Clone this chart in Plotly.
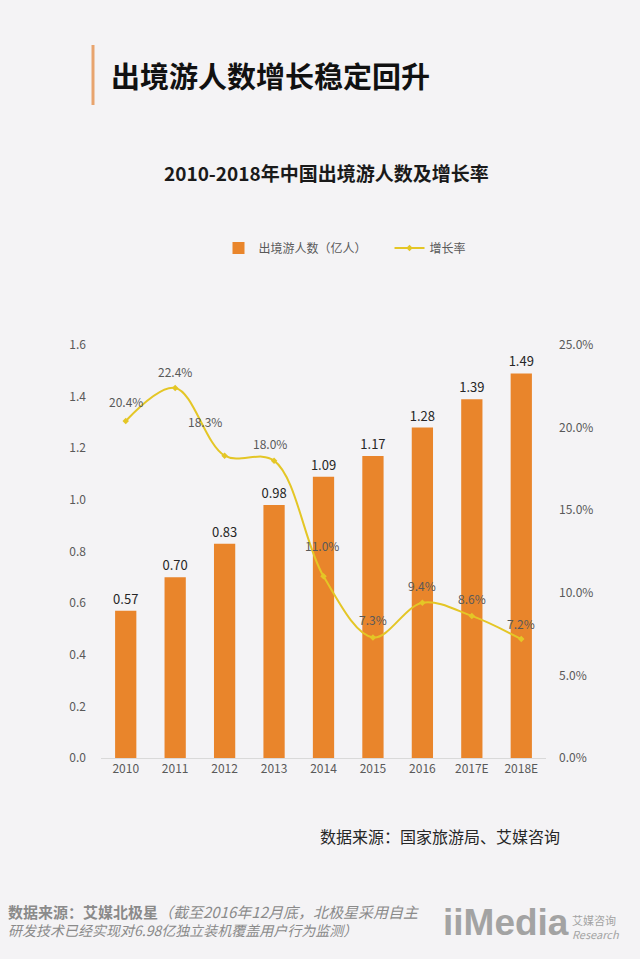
import plotly.graph_objects as go

# Data
years = ['2010', '2011', '2012', '2013', '2014', '2015', '2016', '2017E', '2018E']
travelers = [0.57, 0.70, 0.83, 0.98, 1.09, 1.17, 1.28, 1.39, 1.49]
growth = [0.204, 0.224, 0.183, 0.180, 0.110, 0.073, 0.094, 0.086, 0.072]
left_ticks = [0.0, 0.2, 0.4, 0.6, 0.8, 1.0, 1.2, 1.4, 1.6]
right_ticks = [0.0, 0.05, 0.10, 0.15, 0.20, 0.25]

# label nudges for the growth labels (pixels)
growth_xshift = [0, 0, -20, -4, -2, 0, 0, 0, 0]
growth_yshift = [19, 16, 34, 17, 31, 18, 17, 17, 16]

BG = '#f4f3f5'
ORANGE = '#e9852b'
YELLOW = '#e4c626'
FONT = 'Noto Sans CJK SC'

# Plot area in pixels, used to place the free text
L, R, T, B = 101, 546, 345, 758


def px(x):
    return (x - L) / (R - L)


def py(y):
    return (B - y) / (B - T)


fig = go.Figure()

fig.add_trace(go.Bar(x=years,
                     y=travelers,
                     name='出境游人数（亿人）\u2003\u2002',
                     marker=dict(color=ORANGE, line=dict(width=0)),
                     text=['%.2f' % v for v in travelers],
                     textposition='outside',
                     constraintext='none',
                     textfont=dict(size=13, color='#262626', family=FONT),
                     cliponaxis=False))

fig.add_trace(go.Scatter(x=years,
                         y=growth,
                         yaxis='y2',
                         name='增长率',
                         mode='lines+markers',
                         line=dict(color=YELLOW, width=2, shape='spline', smoothing=1.0),
                         marker=dict(color=YELLOW, size=5, symbol='diamond')))

annotations = []

# growth rate labels (x given as category index so '2010' is not read as a number)
for i, g in enumerate(growth):
    annotations.append(dict(x=i, y=g, xref='x', yref='y2',
                            text='%.1f%%' % (g * 100),
                            showarrow=False,
                            xshift=growth_xshift[i], yshift=growth_yshift[i],
                            font=dict(size=12, color='#595959', family=FONT)))

# titles and sources
annotations += [
    dict(x=px(109), y=py(75), xref='paper', yref='paper', xanchor='left', yanchor='middle',
         text='<b>出境游人数增长稳定回升</b>', showarrow=False,
         font=dict(size=29, color='#111111', family=FONT)),
    dict(x=px(326), y=py(172), xref='paper', yref='paper', xanchor='center', yanchor='middle',
         text='<b>2010-2018年中国出境游人数及增长率</b>', showarrow=False,
         font=dict(size=19, color='#1a1a1a', family=FONT)),
    dict(x=px(562), y=py(836), xref='paper', yref='paper', xanchor='right', yanchor='middle',
         text='数据来源：国家旅游局、艾媒咨询', showarrow=False,
         font=dict(size=16, color='#262626', family=FONT)),
    dict(x=px(6), y=py(920), xref='paper', yref='paper', xanchor='left', yanchor='middle',
         align='left',
         text=('<span style="font-size:15px"><b>数据来源：艾媒北极星</b>'
               '<i>（截至2016年12月底，北极星采用自主</i></span><br>'
               '<i>研发技术已经实现对6.98亿独立装机覆盖用户行为监测）</i>'),
         showarrow=False, font=dict(size=14, color='#8a8a8a', family=FONT)),
    # logo
    dict(x=px(571), y=py(922), xref='paper', yref='paper', xanchor='right', yanchor='middle',
         text='<b>iiMedia</b>', showarrow=False,
         font=dict(size=37, color='#a3a3a3', family='Liberation Sans')),
    dict(x=px(570), y=py(927), xref='paper', yref='paper', xanchor='left', yanchor='middle',
         align='left', text='艾媒咨询<br><i>Research</i>', showarrow=False,
         font=dict(size=11, color='#a3a3a3', family=FONT)),
]

# faint watermarks
for wx, wy in [(110, 170), (310, 275), (50, 640), (280, 815), (560, 615)]:
    annotations.append(dict(x=px(wx), y=py(wy), xref='paper', yref='paper',
                            text='<b>iiMedia</b>', showarrow=False, textangle=-25,
                            font=dict(size=40, color='rgba(0,0,0,0.018)',
                                      family='Liberation Sans')))

fig.update_layout(
    width=640, height=959,
    margin=dict(l=L, r=640 - R, t=T, b=959 - B),
    paper_bgcolor=BG,
    plot_bgcolor=BG,
    font=dict(family=FONT, color='#595959', size=12),
    bargap=0.57,
    showlegend=True,
    legend=dict(orientation='h', x=px(345), xanchor='center', y=py(248), yanchor='middle',
                font=dict(size=12, color='#595959', family=FONT),
                bgcolor='rgba(0,0,0,0)', itemwidth=30),
    xaxis=dict(type='category', range=[-0.5, len(years) - 0.5],
               showgrid=False, showline=True, linecolor='#d9d9d9', linewidth=1,
               ticks='', tickfont=dict(size=12, color='#595959')),
    yaxis=dict(range=[0, 1.6], tickvals=left_ticks,
               ticktext=['%.1f' % v for v in left_ticks],
               showgrid=False, zeroline=False, showline=False, ticks='',
               ticklabelstandoff=14, tickfont=dict(size=12, color='#595959')),
    yaxis2=dict(range=[0, 0.25], tickvals=right_ticks,
                ticktext=['%.1f%%' % (v * 100) for v in right_ticks],
                overlaying='y', side='right',
                showgrid=False, zeroline=False, showline=False, ticks='',
                ticklabelstandoff=12, tickfont=dict(size=12, color='#595959')),
    annotations=annotations,
    shapes=[dict(type='line', xref='paper', yref='paper',
                 x0=px(93), x1=px(93), y0=py(45), y1=py(105),
                 line=dict(color='#e8a46e', width=3))],
)

# drop the default page margin so the figure sits at the window's corner
fig.write_html("out.html",
               config={'displayModeBar': False},
               post_script="document.body.style.margin='0';document.body.style.overflow='hidden';")
